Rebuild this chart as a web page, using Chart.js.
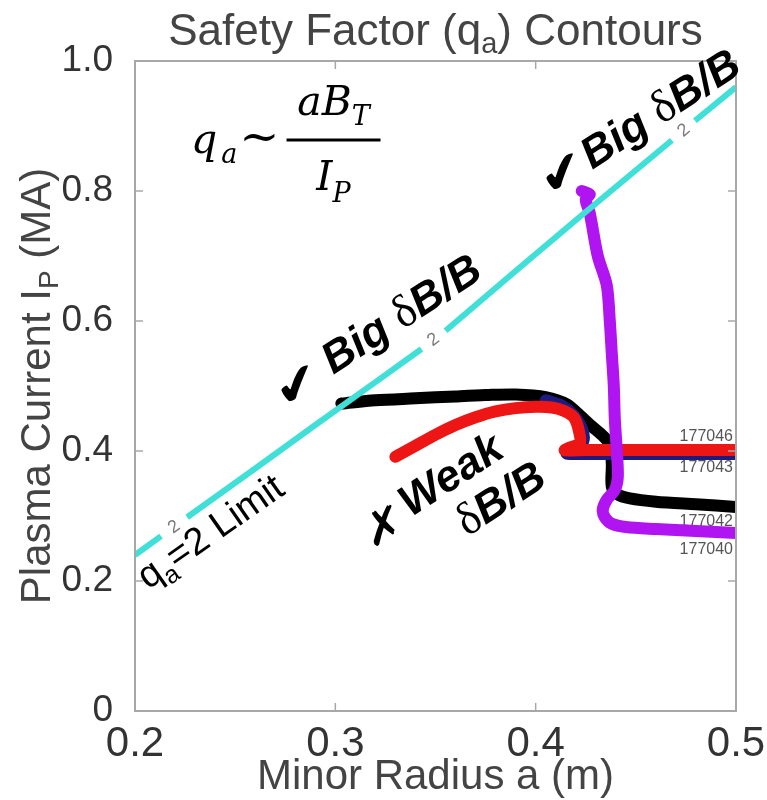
<!DOCTYPE html>
<html>
<head>
<meta charset="utf-8">
<script src="https://cdn.jsdelivr.net/npm/chart.js@4.4.1/dist/chart.umd.min.js"></script>
<style>
  html, body { margin: 0; padding: 0; background: #fff; }
  canvas { display: block; }
</style>
</head>
<body>
<canvas id="chart" width="767" height="800"></canvas>
<script>
// ---- Axis ticks ----
const xTickValues = [0.2, 0.3, 0.4, 0.5];
const xTickLabels = ['0.2', '0.3', '0.4', '0.5'];
const yTickValues = [0, 0.2, 0.4, 0.6, 0.8, 1.0];
const yTickLabels = ['0', '0.2', '0.4', '0.6', '0.8', '1.0'];

// ---- q_a = 2 contour (minor radius a in m, plasma current in MA); nulls leave room for the inline level labels ----
const qaLimitA = [0.2, 0.213, 0.2195, 0.226, 0.26, 0.29, 0.32, 0.343, 0.349, 0.355, 0.39, 0.42, 0.468, 0.474, 0.4795, 0.5];
const qaLimitI = [0.24, 0.269, null, 0.298, 0.373, 0.44, 0.506, 0.557, null, 0.585, 0.677, 0.755, 0.878, null, 0.908, 0.96];
const contourLabelA = [0.2195, 0.349, 0.474];
const contourLabelI = [0.283, 0.571, 0.893];
const contourLevel = '2';

// ---- Discharge trajectories ----
const shot177042A = [0.303, 0.32, 0.34, 0.36, 0.375, 0.39, 0.405, 0.4155, 0.422, 0.428, 0.434, 0.437, 0.438, 0.438, 0.441, 0.447, 0.46, 0.48, 0.5];
const shot177042I = [0.473, 0.478, 0.481, 0.484, 0.486, 0.487, 0.483, 0.472, 0.455, 0.438, 0.422, 0.41, 0.38, 0.345, 0.333, 0.327, 0.322, 0.318, 0.314];

const shot177043A = [0.405, 0.413, 0.419, 0.423, 0.424, 0.421, 0.4155, 0.43, 0.46, 0.5];
const shot177043I = [0.478, 0.47, 0.455, 0.435, 0.418, 0.403, 0.396, 0.3955, 0.3955, 0.3955];

const shot177046A = [0.33, 0.34, 0.35, 0.36, 0.37, 0.38, 0.39, 0.40, 0.408, 0.414, 0.419, 0.4215, 0.422, 0.416, 0.4145, 0.425, 0.45, 0.47, 0.5];
const shot177046I = [0.391, 0.408, 0.425, 0.44, 0.452, 0.461, 0.466, 0.468, 0.467, 0.462, 0.452, 0.432, 0.412, 0.404, 0.401, 0.4015, 0.4015, 0.4015, 0.4015];

const shot177040A = [0.423, 0.427, 0.425, 0.427, 0.431, 0.4355, 0.437, 0.438, 0.439, 0.4395, 0.4405, 0.441, 0.4395, 0.4355, 0.4335, 0.4345, 0.438, 0.445, 0.46, 0.48, 0.5];
const shot177040I = [0.800, 0.795, 0.787, 0.766, 0.70, 0.655, 0.60, 0.55, 0.50, 0.45, 0.40, 0.36, 0.34, 0.325, 0.31, 0.298, 0.288, 0.283, 0.28, 0.277, 0.274];

// Shot numbers printed at the right end of each trajectory
const shotNames = ['177046', '177043', '177042', '177040'];
const shotLabelI = [0.4215, 0.374, 0.291, 0.248];
const shotLabelA = 0.4985;

const pts = (A, I) => A.map((a, i) => ({ x: a, y: I[i] }));

const SANS = '"Liberation Sans", Arial, sans-serif';
const SERIF = '"Liberation Serif", "Times New Roman", serif';
const MATH = '"DejaVu Serif", serif';
const SYM = '"DejaVu Sans", sans-serif';
const DEG = Math.PI / 180;

// Draws a run of differently styled text pieces along one (optionally rotated) baseline
function drawRich(ctx, segs, x, y, angle, align, baseline) {
  ctx.save();
  ctx.translate(x, y);
  ctx.rotate(angle || 0);
  let total = 0;
  segs.forEach(s => { ctx.font = s.font; s.w = ctx.measureText(s.text).width + (s.gap || 0); total += s.w; });
  let cx = align === 'center' ? -total / 2 : (align === 'right' ? -total : 0);
  ctx.textAlign = 'left';
  ctx.textBaseline = baseline || 'alphabetic';
  segs.forEach(s => {
    ctx.font = s.font;
    ctx.fillStyle = s.color || '#000';
    ctx.fillText(s.text, cx, s.dy || 0);
    cx += s.w;
  });
  ctx.restore();
}

// Local screen angle of the q_a = 2 contour around a given radius
function contourAngleAt(x, y, a) {
  let k = 1;
  while (k < qaLimitA.length - 1 && qaLimitA[k] < a) k++;
  let i0 = k - 1, i1 = k;
  if (qaLimitI[i0] === null) i0--;
  if (qaLimitI[i1] === null) i1++;
  return Math.atan2(y.getPixelForValue(qaLimitI[i1]) - y.getPixelForValue(qaLimitI[i0]),
                    x.getPixelForValue(qaLimitA[i1]) - x.getPixelForValue(qaLimitA[i0]));
}

const framePlugin = {
  id: 'frame',
  afterDatasetsDraw(chart) {
    const { ctx, chartArea: ca, scales: { x, y } } = chart;
    ctx.save();
    ctx.strokeStyle = '#a8a8a8';
    ctx.lineWidth = 2;
    ctx.strokeRect(ca.left, ca.top, ca.right - ca.left, ca.bottom - ca.top);
    ctx.lineWidth = 1.5;
    const tl = 8;
    ctx.beginPath();
    x.ticks.forEach(t => {
      const px = x.getPixelForValue(t.value);
      ctx.moveTo(px, ca.bottom); ctx.lineTo(px, ca.bottom - tl);
      ctx.moveTo(px, ca.top); ctx.lineTo(px, ca.top + tl);
    });
    y.ticks.forEach(t => {
      const py = y.getPixelForValue(t.value);
      ctx.moveTo(ca.left, py); ctx.lineTo(ca.left + tl, py);
      ctx.moveTo(ca.right, py); ctx.lineTo(ca.right - tl, py);
    });
    ctx.stroke();
    ctx.restore();
  }
};

const labelPlugin = {
  id: 'labels',
  beforeDatasetsDraw(chart) {
    const { ctx, scales: { x, y } } = chart;
    contourLabelA.forEach((a, i) => {
      drawRich(ctx, [{ text: contourLevel, font: '18px ' + SANS, color: '#7a7a7a' }],
        x.getPixelForValue(a), y.getPixelForValue(contourLabelI[i]), contourAngleAt(x, y, a), 'center', 'middle');
    });
    shotNames.forEach((n, i) => {
      drawRich(ctx, [{ text: n, font: '16px ' + SANS, color: '#555' }],
        x.getPixelForValue(shotLabelA), y.getPixelForValue(shotLabelI[i]), 0, 'right', 'middle');
    });
  },
  afterDraw(chart) {
    const { ctx, chartArea: ca, scales: { x, y } } = chart;
    const midX = (ca.left + ca.right) / 2;
    const px = a => x.getPixelForValue(a);
    const py = v => y.getPixelForValue(v);

    // Title
    drawRich(ctx, [
      { text: 'Safety Factor (q', font: '44px ' + SANS, color: '#444' },
      { text: 'a', font: '29px ' + SANS, color: '#444', dy: 8 },
      { text: ') Contours', font: '44px ' + SANS, color: '#444' }
    ], midX, 45, 0, 'center');

    // Axis titles
    drawRich(ctx, [{ text: 'Minor Radius a (m)', font: '42px ' + SANS, color: '#444' }],
      midX, 789, 0, 'center');
    drawRich(ctx, [
      { text: 'Plasma Current I', font: '42px ' + SANS, color: '#444' },
      { text: 'P', font: '28px ' + SANS, color: '#444', dy: 8 },
      { text: ' (MA)', font: '42px ' + SANS, color: '#444' }
    ], 50, (ca.top + ca.bottom) / 2, -Math.PI / 2, 'center');

    // Scaling relation q_a ~ a B_T / I_P
    const fx = px(0.2991), fy = py(0.8785);
    ctx.save();
    ctx.strokeStyle = '#000'; ctx.lineWidth = 3;
    ctx.beginPath(); ctx.moveTo(fx - 47, fy); ctx.lineTo(fx + 47, fy); ctx.stroke();
    ctx.restore();
    drawRich(ctx, [
      { text: 'a', font: 'italic 41px ' + MATH },
      { text: 'B', font: 'italic 41px ' + MATH },
      { text: 'T', font: 'italic 27px ' + MATH, dy: 10 }
    ], fx, fy - 25, 0, 'center');
    drawRich(ctx, [
      { text: 'I', font: 'italic 41px ' + MATH },
      { text: 'P', font: 'italic 27px ' + MATH, dy: 12 }
    ], fx, fy + 50, 0, 'center');
    drawRich(ctx, [
      { text: 'q', font: 'italic 41px ' + MATH, gap: 4 },
      { text: 'a', font: 'italic 27px ' + MATH, dy: 10, gap: 2 },
      { text: '~', font: '48px ' + MATH }
    ], fx - 54, fy + 13, 0, 'right');

    // Annotations along the contour
    const textAng = -33 * DEG;
    const bigText = [
      { text: 'Big ', font: 'italic bold 44px ' + SANS },
      { text: '\u03b4', font: '46px ' + SERIF },
      { text: 'B/B', font: 'italic bold 44px ' + SANS }
    ];
    const check = [{ text: '\u2714', font: '54px ' + SYM }];
    drawRich(ctx, check, px(0.4137), py(0.8215), -18 * DEG, 'center', 'middle');
    drawRich(ctx, bigText, px(0.4282), py(0.8323), textAng, 'left');
    drawRich(ctx, check, px(0.2814), py(0.4954), -18 * DEG, 'center', 'middle');
    drawRich(ctx, bigText, px(0.2989), py(0.5169), textAng, 'left');

    drawRich(ctx, [{ text: '\u2717', font: '48px ' + SYM }], px(0.3248), py(0.2785), -18 * DEG, 'center', 'middle');
    drawRich(ctx, [{ text: 'Weak', font: 'italic bold 44px ' + SANS }], px(0.3375), py(0.2975), textAng, 'left');
    drawRich(ctx, [
      { text: '\u03b4', font: '46px ' + SERIF },
      { text: 'B/B', font: 'italic bold 44px ' + SANS }
    ], px(0.3658), py(0.2677), textAng, 'left');

    drawRich(ctx, [
      { text: 'q', font: '38px ' + SANS },
      { text: 'a', font: '25px ' + SANS, dy: 9 },
      { text: '=2 Limit', font: '38px ' + SANS }
    ], px(0.2065), py(0.186), -35 * DEG, 'left');
  }
};

const lineSet = (label, A, I, color, width, order) => ({
  label, data: pts(A, I), borderColor: color, backgroundColor: color,
  borderWidth: width, showLine: true, pointRadius: 0, spanGaps: false,
  tension: 0.3, borderCapStyle: 'round', borderJoinStyle: 'round', order
});

new Chart(document.getElementById('chart'), {
  type: 'scatter',
  data: {
    datasets: [
      Object.assign(lineSet('q_a = 2', qaLimitA, qaLimitI, '#40e0d8', 6, 0), { tension: 0, borderCapStyle: 'butt' }),
      lineSet('177040', shot177040A, shot177040I, '#b014f0', 12, 1),
      lineSet('177046', shot177046A, shot177046I, '#ee1515', 12, 2),
      lineSet('177043', shot177043A, shot177043I, '#1c1c80', 12, 3),
      lineSet('177042', shot177042A, shot177042I, '#000000', 12, 4)
    ]
  },
  options: {
    responsive: false,
    animation: false,
    devicePixelRatio: 1,
    layout: { padding: { left: 0, top: 61, right: 31, bottom: 0 } },
    plugins: { legend: { display: false }, tooltip: { enabled: false }, title: { display: false } },
    scales: {
      x: {
        type: 'linear', min: 0.2, max: 0.5,
        afterFit(s) { s.height = 89; s.paddingLeft = 0; s.paddingRight = 0; },
        afterBuildTicks(s) { s.ticks = xTickValues.map(v => ({ value: v })); },
        grid: { display: false, drawTicks: false },
        border: { display: false },
        ticks: {
          padding: 8, color: '#333', maxRotation: 0, autoSkip: false,
          font: { family: SANS, size: 42 },
          callback: (v, i) => xTickLabels[i]
        }
      },
      y: {
        type: 'linear', min: 0, max: 1.0,
        afterFit(s) { s.width = 135; s.paddingTop = 0; s.paddingBottom = 0; },
        afterBuildTicks(s) { s.ticks = yTickValues.map(v => ({ value: v })); },
        grid: { display: false, drawTicks: false },
        border: { display: false },
        ticks: {
          padding: 22, color: '#333', autoSkip: false,
          font: { family: SANS, size: 37 },
          callback: (v, i) => yTickLabels[i]
        }
      }
    }
  },
  plugins: [labelPlugin, framePlugin]
});
</script>
</body>
</html>
